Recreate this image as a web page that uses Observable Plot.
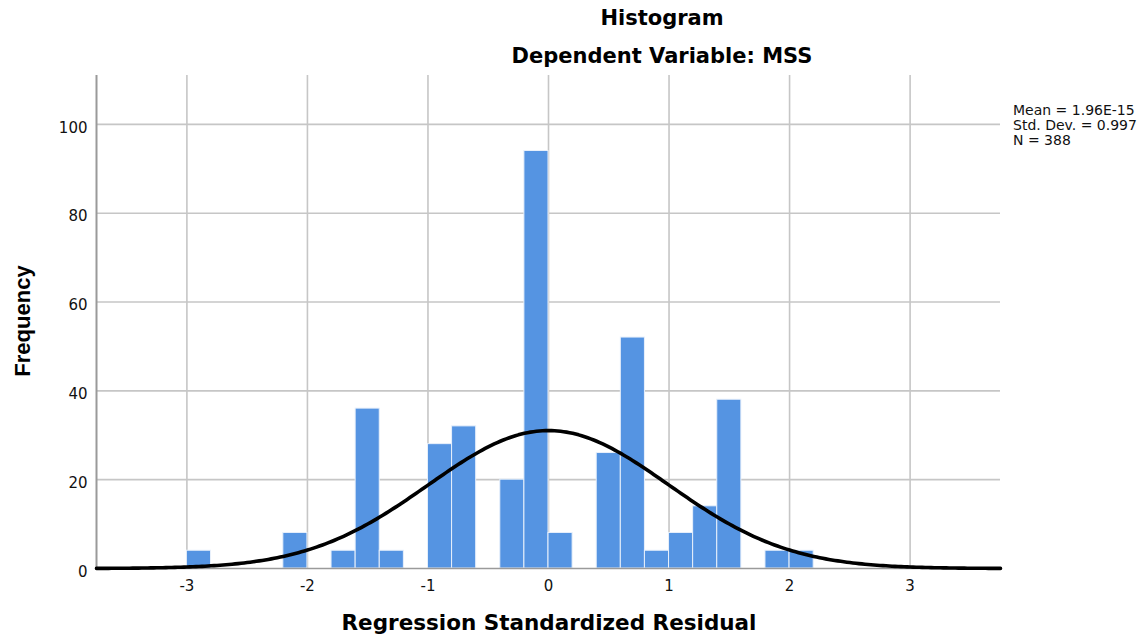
<!DOCTYPE html>
<html>
<head>
<meta charset="utf-8">
<script src="https://cdn.jsdelivr.net/npm/d3@7"></script>
<script src="https://cdn.jsdelivr.net/npm/@observablehq/plot@0.6"></script>
<style>
  body { margin: 0; background: #fff; }
  #wrap { position: relative; width: 1147px; height: 637px; overflow: hidden; background: #fff; }
  #chart { position: absolute; left: 0; top: 0; }
  .t { position: absolute; white-space: nowrap; line-height: 1; color: #000; font-family: "DejaVu Sans", sans-serif; font-weight: bold; font-size: 21px; transform: translate(-50%, -50%); }
  .ylab { position: absolute; white-space: nowrap; line-height: 1; color: #000; font-family: "Liberation Sans", Arial, sans-serif; font-weight: bold; font-size: 22px; transform: translate(-50%, -50%) rotate(-90deg); }
  .legend { position: absolute; left: 1013px; top: 102.5px; font-family: "DejaVu Sans", sans-serif; font-size: 14px; line-height: 15px; color: #111; white-space: nowrap; }
</style>
</head>
<body>
<div id="wrap">
  <div id="chart"></div>
  <div class="t" style="left:662px; top:17.5px;">Histogram</div>
  <div class="t" style="left:662px; top:55.5px;">Dependent Variable: MSS</div>
  <div class="t" style="left:549px; top:622.5px; font-size:21.5px;">Regression Standardized Residual</div>
  <div class="ylab" style="left:22.5px; top:320.5px;">Frequency</div>
  <div class="legend" id="legend"></div>
</div>
<script>
// ---- data ----
const binLower = [-3.0, -2.2, -1.8, -1.6, -1.4, -1.0, -0.8, -0.4, -0.2, 0.0, 0.4, 0.6, 0.8, 1.0, 1.2, 1.4, 1.8, 2.0];
const binCounts = [4, 8, 4, 36, 4, 28, 32, 20, 94, 8, 26, 52, 4, 8, 14, 38, 4, 4];
const binWidth = 0.2;
const xTicks = [-3, -2, -1, 0, 1, 2, 3];
const yTicks = [0, 20, 40, 60, 80, 100];
const statMean = 1.96e-15;
const statSD = 0.997;
const statN = 388;
const legendLines = ["Mean = 1.96E-15", "Std. Dev. = 0.997", "N = 388"];

// ---- tables built from the arrays ----
const bins = binLower.map((x, i) => ({x1: x, x2: x + binWidth, count: binCounts[i]}));
// fitted normal curve (as SPSS draws it, from mean, sd and N)
const curveX = d3.range(-3.75, 3.7501, 0.025);
const curve = curveX.map(x => ({
  x,
  y: statN * binWidth * Math.exp(-0.5 * ((x - statMean) / statSD) ** 2) / (statSD * Math.sqrt(2 * Math.PI))
}));

const fmt = d => String(d);

const plot = Plot.plot({
  width: 1147,
  height: 637,
  marginLeft: 96,
  marginRight: 147,
  marginTop: 75,
  marginBottom: 69,
  style: {fontFamily: "DejaVu Sans, sans-serif", fontSize: "15px", color: "#111", background: "#fff"},
  x: {domain: [-3.75, 3.75]},
  y: {domain: [0, 111]},
  marks: [
    Plot.gridX(xTicks, {stroke: "#c6c6c6", strokeOpacity: 1, strokeWidth: 1.6}),
    Plot.gridY(yTicks.filter(d => d > 0), {stroke: "#c6c6c6", strokeOpacity: 1, strokeWidth: 1.6}),
    Plot.rectY(bins, {x1: "x1", x2: "x2", y: "count", fill: "#5594e2", stroke: "#e8f0fb", strokeWidth: 1}),
    Plot.ruleX([-3.75], {stroke: "#9a9a9a", strokeWidth: 2}),
    Plot.ruleY([0], {stroke: "#9a9a9a", strokeWidth: 1.5}),
    Plot.line(curve, {x: "x", y: "y", stroke: "#000", strokeWidth: 3.6, curve: "linear"}),
    Plot.axisY(yTicks, {tickSize: 0, tickPadding: 9, dy: 3.5, label: null, fontSize: 15, tickFormat: fmt}),
    Plot.axisX(xTicks, {tickSize: 0, tickPadding: 12, label: null, fontSize: 15, tickFormat: fmt})
  ]
});
document.getElementById("chart").appendChild(plot);
document.getElementById("legend").innerHTML = legendLines.join("<br>");
</script>
</body>
</html>
